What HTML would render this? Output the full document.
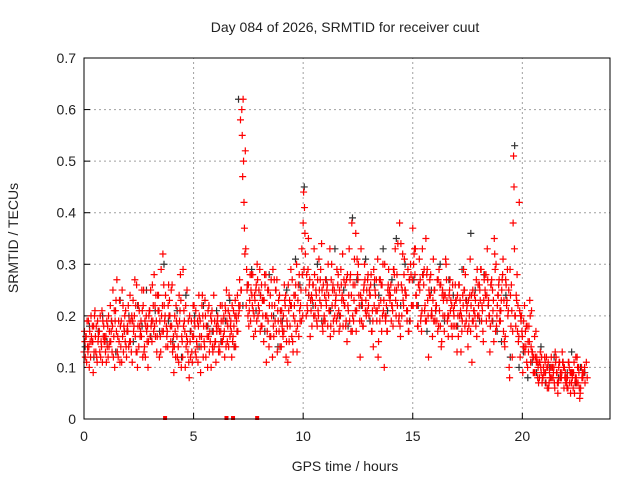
<!DOCTYPE html>
<html><head><meta charset="utf-8"><style>
body{margin:0;background:#fff;width:640px;height:480px;overflow:hidden}
svg{display:block;font-family:"Liberation Sans",sans-serif}
</style></head><body>
<svg id="chart" width="640" height="480" viewBox="0 0 640 480">
<text x="345" y="32" font-size="14" text-anchor="middle" fill="#222">Day 084 of 2026, SRMTID for receiver cuut</text>
<text x="345" y="471" font-size="14" text-anchor="middle" fill="#222">GPS time / hours</text>
<text transform="translate(18,238) rotate(-90)" font-size="14" text-anchor="middle" fill="#222">SRMTID / TECUs</text>
<g id="grid"></g>
<g id="ticks"></g>
<g id="marks"></g>
<rect x="84" y="58" width="526" height="361" fill="none" stroke="#000" stroke-width="1"/>
</svg>
<script>
const xTicks=[0,5,10,15,20];
const yTicks=[0,0.1,0.2,0.3,0.4,0.5,0.6,0.7];
const yTickLabels=["0","0.1","0.2","0.3","0.4","0.5","0.6","0.7"];
const redStep=0.1;
const redA=[.13,.16,.19,.12,.15,.21,.11,.17,.14,.18,.16,.12,.22,.18,.10,.27,.15,.19,.13,.21,.17,.24,.11,.20,.26,.14,.19,.22,.12,.18,.21,.15,.28,.19,.24,.13,.32,.20,.17,.23,.18,.09,.22,.14,.28,.12,.17,.25,.08,.19,.16,.21,.11,.19,.24,.14,.18,.22,.10,.17,.15,.20,.13,.22,.17,.25,.14,.19,.16,.23,.24,.27,.60,.42,.22,.26,.19,.28,.23,.30,.21,.26,.15,.28,.19,.24,.12,.22,.27,.17,.14,.20,.24,.11,.18,.27,.22,.30,.16,.25,.38,.32,.21,.27,.18,.33,.24,.20,.29,.17,.19,.26,.21,.30,.17,.24,.28,.20,.32,.22,.15,.33,.24,.19,.36,.27,.12,.22,.30,.25,.20,.28,.14,.24,.31,.19,.26,.10,.22,.29,.26,.18,.33,.22,.38,.20,.28,.24,.17,.30,.37,.28,.22,.31,.17,.26,.35,.20,.24,.16,.25,.19,.29,.14,.23,.31,.20,.27,.16,.22,.18,.26,.13,.22,.28,.17,.24,.11,.21,.27,.22,.29,.17,.25,.33,.20,.27,.15,.30,.24,.19,.28,.14,.23,.10,.26,.51,.18,.22,.12,.16,.22,.11,.18,.14,.09,.12,.08,.11,.07,.09,.12,.06,.10,.08,.13,.07,.11,.09,.06,.08,.11,.05,.09,.07,.12,.06,.10,.09];
const redB=[.17,.11,.14,.20,.09,.16,.19,.13,.21,.15,.11,.20,.15,.25,.19,.13,.23,.11,.18,.14,.22,.15,.19,.27,.13,.21,.16,.25,.18,.10,.16,.26,.18,.13,.21,.29,.17,.24,.14,.20,.26,.14,.19,.11,.23,.29,.10,.15,.20,.13,.22,.12,.18,.09,.20,.23,.16,.13,.19,.24,.11,.18,.22,.15,.12,.19,.24,.17,.21,.14,.17,.22,.55,.37,.29,.18,.25,.21,.17,.27,.29,.18,.23,.11,.25,.16,.29,.19,.13,.24,.21,.17,.12,.26,.22,.15,.19,.13,.28,.19,.44,.25,.29,.16,.23,.28,.19,.31,.22,.26,.27,.18,.33,.22,.25,.19,.21,.29,.18,.26,.28,.19,.38,.23,.17,.30,.24,.18,.27,.21,.25,.17,.29,.21,.12,.27,.20,.30,.17,.24,.19,.29,.23,.34,.18,.25,.31,.21,.17,.28,.22,.33,.18,.25,.21,.29,.19,.12,.28,.23,.19,.27,.21,.15,.24,.30,.16,.21,.26,.18,.13,.26,.20,.29,.23,.14,.31,.19,.24,.16,.20,.29,.15,.24,.27,.13,.19,.35,.18,.26,.21,.31,.16,.29,.08,.21,.45,.24,.15,.20,.09,.13,.18,.15,.21,.12,.17,.10,.13,.08,.12,.10,.07,.12,.09,.11,.05,.08,.13,.10,.07,.11,.09,.06,.08,.10,.04,.08,.09,.11];
const redC=[.15,.19,.10,.16,.18,.13,.15,.20,.11,.16,.19,.14,.17,.12,.21,.16,.11,.25,.17,.12,.14,.19,.23,.16,.10,.18,.25,.13,.20,.15,.25,.19,.22,.16,.12,.20,.26,.14,.22,.18,.13,.20,.16,.24,.10,.18,.22,.13,.15,.11,.19,.15,.24,.14,.12,.20,.10,.17,.21,.14,.18,.13,.17,.19,.22,.15,.20,.12,.18,.20,.20,.58,.47,.32,.25,.21,.28,.16,.25,.20,.17,.23,.28,.20,.14,.27,.18,.25,.21,.14,.18,.26,.15,.21,.29,.13,.24,.18,.21,.33,.29,.20,.35,.23,.26,.20,.18,.25,.34,.19,.23,.30,.16,.25,.20,.29,.17,.26,.23,.18,.22,.27,.17,.31,.21,.24,.33,.18,.21,.27,.24,.17,.22,.27,.15,.23,.30,.20,.17,.25,.22,.29,.20,.26,.16,.32,.25,.19,.27,.22,.30,.24,.18,.27,.33,.21,.28,.25,.20,.31,.21,.17,.26,.24,.17,.27,.20,.23,.18,.26,.24,.20,.17,.25,.19,.23,.17,.25,.20,.29,.26,.19,.23,.28,.22,.18,.25,.32,.20,.27,.23,.17,.27,.20,.29,.12,.33,.23,.16,.19,.14,.17,.10,.23,.13,.09,.11,.07,.10,.08,.11,.06,.09,.08,.10,.12,.07,.09,.11,.08,.06,.10,.07,.09,.12,.07,.05,.09,.10];
const redD=[.12,.14,.17,.15,.13,.18,.16,.12,.19,.15,.14,.17,.19,.16,.23,.12,.18,.16,.20,.17,.19,.13,.17,.22,.18,.16,.21,.14,.17,.20,.18,.22,.16,.24,.19,.17,.22,.18,.26,.15,.14,.17,.12,.19,.16,.21,.14,.19,.12,.16,.18,.14,.20,.16,.18,.12,.21,.15,.14,.19,.17,.14,.19,.16,.21,.18,.16,.22,.14,.19,.22,.25,.62,.52,.26,.23,.24,.20,.26,.22,.24,.20,.26,.17,.22,.20,.16,.25,.19,.21,.17,.23,.19,.15,.22,.20,.26,.23,.19,.28,.41,.28,.24,.21,.26,.22,.27,.23,.25,.20,.22,.24,.18,.26,.22,.20,.25,.23,.27,.19,.21,.28,.20,.26,.31,.22,.19,.25,.23,.28,.24,.21,.27,.19,.22,.26,.21,.19,.25,.23,.22,.28,.25,.19,.34,.23,.25,.21,.27,.22,.32,.24,.26,.19,.28,.22,.29,.24,.21,.19,.22,.27,.18,.25,.20,.23,.24,.18,.21,.23,.20,.23,.19,.25,.21,.18,.22,.19,.23,.20,.25,.22,.27,.19,.23,.26,.21,.29,.22,.19,.25,.23,.26,.21,.24,.17,.20,.28,.42,.20,.19,.14,.15,.20,.13,.16,.12,.11,.09,.10,.09,.10,.08,.10,.07,.09,.10,.08,.11,.09,.08,.07,.09,.11,.08,.10,.06,.08,.07,.08];
const redE=[.16,.13,.15,.18,.20,.12,.17,.15,.16,.13,.18,.15,.13,.21,.17,.19,.14,.22,.15,.18,.15,.20,.18,.13,.22,.17,.12,.19,.15,.21,.19,.17,.24,.21,.16,.22,.19,.16,.20,.25,.16,.12,.18,.21,.15,.19,.16,.11,.17,.22,.13,.19,.16,.22,.15,.18,.16,.20,.13,.15,.19,.17,.15,.20,.14,.21,.18,.15,.20,.17,.21,.25,.50,.33,.20,.28,.22,.24,.19,.25,.18,.23,.20,.25,.16,.22,.27,.17,.23,.19,.16,.22,.18,.23,.16,.24,.17,.26,.22,.20,.36,.22,.26,.24,.20,.25,.21,.27,.18,.24,.25,.21,.27,.19,.23,.26,.18,.24,.22,.27,.24,.17,.26,.21,.28,.19,.23,.26,.20,.22,.26,.19,.25,.21,.27,.17,.23,.20,.26,.24,.21,.25,.28,.20,.26,.22,.24,.29,.19,.27,.33,.22,.26,.20,.28,.19,.23,.27,.20,.25,.22,.18,.26,.20,.24,.19,.25,.22,.20,.23,.16,.21,.24,.18,.22,.20,.24,.21,.18,.26,.23,.21,.28,.24,.20,.26,.23,.17,.24,.21,.27,.15,.22,.25,.18,.38,.20,.17,.21,.17,.14,.18,.13,.11,.12,.09,.11,.08,.12,.09,.07,.11,.08,.10,.06,.09,.11,.08,.10,.07,.06,.09,.08,.05,.07,.09];
const blackStep=0.2;
const blackVals=[.14,.18,.12,.17,.20,.15,.19,.13,.23,.17,.20,.15,.22,.18,.25,.16,.21,.17,.30,.19,.15,.21,.12,.24,.17,.20,.14,.22,.18,.17,.21,.15,.19,.23,.14,.62,.22,.26,.29,.21,.24,.17,.28,.20,.14,.19,.25,.22,.31,.26,.45,.24,.22,.30,.19,.27,.21,.33,.20,.25,.18,.39,.27,.22,.31,.19,.26,.24,.33,.21,.27,.35,.22,.30,.19,.27,.22,.28,.17,.25,.21,.30,.19,.27,.24,.18,.29,.23,.36,.25,.19,.28,.22,.19,.17,.15,.24,.12,.53,.10,.13,.08,.11,.09,.14,.07,.10,.12,.08,.11,.09,.13,.07,.10,.09];
const zeroTimes=[3.7,6.5,6.8,7.9];

const X0=84,X1=610,Y0=419,Y1=58,XMAX=24,YMAX=0.7;
const xs=v=>X0+(X1-X0)*v/XMAX;
const ys=v=>Y0-(Y0-Y1)*v/YMAX;
const NS="http://www.w3.org/2000/svg";
function mk(tag,attrs,parent){const e=document.createElementNS(NS,tag);for(const k in attrs)e.setAttribute(k,attrs[k]);parent.appendChild(e);return e;}
const grid=document.getElementById('grid'),ticks=document.getElementById('ticks'),marks=document.getElementById('marks');
xTicks.forEach(t=>{const x=xs(t);
 if(t>0){const g=mk('line',{x1:x,y1:Y0,x2:x,y2:Y1,stroke:'#a0a0a0','stroke-dasharray':'2,3'},grid);
 
 }
 const tl=mk('line',{x1:x,y1:Y0,x2:x,y2:Y0-6,stroke:'#000'},ticks);
 
 
 const tx=mk('text',{x:x,y:Y0+22,'font-size':14,'text-anchor':'middle',fill:'#222'},ticks);tx.textContent=String(t);
 
 
});
yTicks.forEach((t,i)=>{const y=ys(t);
 if(i>0&&i<yTicks.length-1){const g=mk('line',{x1:X0,y1:y,x2:X1,y2:y,stroke:'#a0a0a0','stroke-dasharray':'2,3'},grid);
 
 }
 const tl=mk('line',{x1:X0,y1:y,x2:X0+6,y2:y,stroke:'#000'},ticks);
 
 
 const tx=mk('text',{x:X0-8,y:y+5,'font-size':14,'text-anchor':'end',fill:'#222'},ticks);tx.textContent=yTickLabels[i];
 
 
});
function cross(t,v,color,name){const x=xs(t),y=ys(v);
 const p=mk('path',{d:`M${x-3.5},${y}h7M${x},${y-3.5}v7`,stroke:color,'stroke-width':1.2,fill:'none'},marks);
 
 
}
blackVals.forEach((v,i)=>cross(i*blackStep+0.05,v,'#333','black-point'));
[redA,redB,redC,redD,redE].forEach((arr,k)=>arr.forEach((v,i)=>cross(i*redStep+k*0.02,v,'#ff0000','red-point')));
zeroTimes.forEach(t=>{const r=mk('rect',{x:xs(t)-2,y:Y0-3,width:4,height:4,fill:'#ff0000'},marks);
 
 });
</script>
</body></html>
